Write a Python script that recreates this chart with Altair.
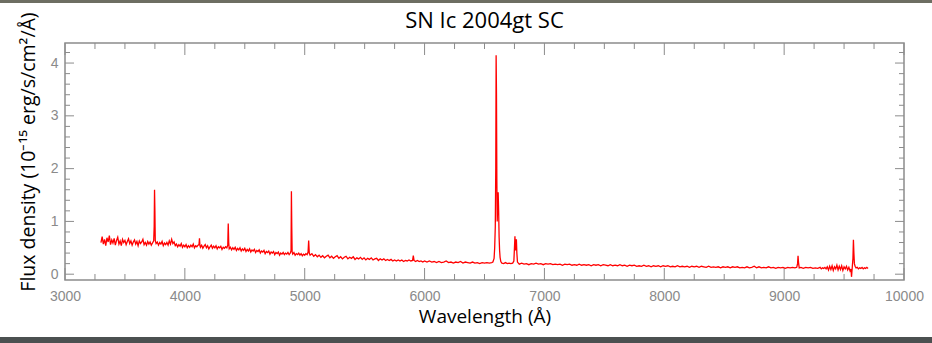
import altair as alt
import pandas as pd

# ---------------- data ----------------
# spectrum segments: (wavelength [Å], flux [1e-15 erg/s/cm2/Å])
seg_uv = [
    (3300, 0.60), (3310, 0.71), (3320, 0.57), (3330, 0.66), (3340, 0.54), (3350, 0.69),
    (3360, 0.61), (3370, 0.73), (3380, 0.56), (3390, 0.65), (3400, 0.59), (3410, 0.68),
    (3420, 0.55), (3430, 0.64), (3440, 0.70), (3450, 0.57), (3460, 0.63), (3470, 0.54),
    (3480, 0.66), (3490, 0.60), (3500, 0.64), (3510, 0.56), (3520, 0.62), (3530, 0.67),
    (3540, 0.58), (3550, 0.63), (3560, 0.55), (3570, 0.61), (3580, 0.65), (3590, 0.57),
    (3600, 0.62), (3610, 0.54), (3620, 0.63), (3630, 0.58), (3640, 0.61), (3650, 0.66),
    (3660, 0.56), (3670, 0.60), (3680, 0.55), (3690, 0.62), (3700, 0.57), (3710, 0.61),
    (3720, 0.55), (3730, 0.59), (3740, 0.63),
    (3744, 0.90), (3747, 1.60), (3750, 1.20), (3753, 0.64),
]
seg_blue = [
    (3760, 0.58), (3770, 0.61), (3780, 0.55), (3790, 0.60), (3800, 0.57), (3810, 0.62),
    (3820, 0.54), (3830, 0.59), (3840, 0.56), (3850, 0.60), (3860, 0.55), (3870, 0.63),
    (3880, 0.57), (3890, 0.66), (3900, 0.58), (3910, 0.61), (3920, 0.54), (3930, 0.57),
    (3940, 0.52), (3950, 0.56), (3960, 0.53), (3970, 0.58), (3980, 0.51), (3990, 0.55),
    (4000, 0.52), (4010, 0.56), (4020, 0.50), (4030, 0.54), (4040, 0.51), (4050, 0.55),
    (4060, 0.52), (4070, 0.57), (4080, 0.50), (4090, 0.54), (4100, 0.52), (4110, 0.55),
    (4118, 0.56), (4122, 0.68), (4126, 0.54),
    (4130, 0.51), (4140, 0.55), (4150, 0.49), (4160, 0.53), (4170, 0.56), (4180, 0.50),
    (4190, 0.54), (4200, 0.48), (4210, 0.52), (4220, 0.55), (4230, 0.49), (4240, 0.53),
    (4250, 0.50), (4260, 0.54), (4270, 0.48), (4280, 0.52), (4290, 0.50), (4300, 0.53),
    (4310, 0.47), (4320, 0.51), (4330, 0.49), (4340, 0.52), (4350, 0.50),
    (4358, 0.55), (4362, 0.96), (4366, 0.60), (4370, 0.48),
    (4380, 0.51), (4390, 0.46), (4400, 0.50), (4410, 0.47), (4420, 0.51), (4430, 0.45),
    (4440, 0.49), (4450, 0.46), (4460, 0.50), (4470, 0.44), (4480, 0.48), (4490, 0.45),
    (4500, 0.49), (4510, 0.43), (4520, 0.47), (4530, 0.44), (4540, 0.48), (4550, 0.42),
    (4560, 0.46), (4570, 0.44), (4580, 0.47), (4590, 0.41), (4600, 0.45), (4610, 0.43),
    (4620, 0.46), (4630, 0.40), (4640, 0.44), (4650, 0.42), (4660, 0.45), (4670, 0.39),
    (4680, 0.43), (4690, 0.41), (4700, 0.44), (4710, 0.38), (4720, 0.42), (4730, 0.40),
    (4740, 0.43), (4750, 0.37), (4760, 0.41), (4770, 0.39), (4780, 0.42), (4790, 0.36),
    (4800, 0.40), (4810, 0.38), (4820, 0.41), (4830, 0.37), (4840, 0.40), (4850, 0.38),
    (4860, 0.41), (4870, 0.37), (4880, 0.40),
    (4886, 0.45), (4889, 1.57), (4892, 0.90), (4895, 0.42),
    (4900, 0.38), (4910, 0.41), (4920, 0.36), (4930, 0.39), (4940, 0.37), (4950, 0.40),
    (4960, 0.36), (4970, 0.39), (4980, 0.35), (4990, 0.38), (5000, 0.36), (5010, 0.39),
    (5020, 0.37),
    (5028, 0.42), (5033, 0.64), (5038, 0.40),
]
seg_green = [
    (5045, 0.36), (5060, 0.39), (5075, 0.34), (5090, 0.37), (5105, 0.33), (5120, 0.36),
    (5135, 0.32), (5150, 0.35), (5165, 0.31), (5180, 0.34), (5195, 0.36), (5210, 0.31),
    (5225, 0.34), (5240, 0.30), (5255, 0.33), (5270, 0.35), (5285, 0.30), (5300, 0.33),
    (5315, 0.29), (5330, 0.32), (5345, 0.34), (5360, 0.29), (5375, 0.32), (5390, 0.30),
    (5405, 0.33), (5420, 0.28), (5435, 0.31), (5450, 0.29), (5465, 0.32), (5480, 0.28),
    (5495, 0.31), (5510, 0.27), (5525, 0.30), (5540, 0.28), (5555, 0.31), (5570, 0.27),
    (5585, 0.29), (5600, 0.30), (5615, 0.26), (5630, 0.29), (5645, 0.27), (5660, 0.29),
    (5675, 0.26), (5690, 0.28), (5705, 0.26), (5720, 0.28), (5735, 0.25), (5750, 0.27),
    (5765, 0.25), (5780, 0.27), (5795, 0.25), (5810, 0.27), (5825, 0.24), (5840, 0.26),
    (5855, 0.25), (5870, 0.27), (5885, 0.25),
    (5900, 0.26), (5906, 0.35), (5912, 0.26),
    (5925, 0.24), (5940, 0.26), (5955, 0.24), (5970, 0.25), (5985, 0.23), (6000, 0.25),
    (6020, 0.23), (6040, 0.25), (6060, 0.23), (6080, 0.24), (6100, 0.22), (6120, 0.24),
    (6140, 0.22), (6160, 0.23), (6180, 0.25), (6200, 0.22), (6220, 0.23), (6240, 0.21),
    (6260, 0.23), (6280, 0.22), (6300, 0.24), (6320, 0.21), (6340, 0.23), (6360, 0.22),
    (6380, 0.21), (6400, 0.23), (6420, 0.21), (6440, 0.22), (6460, 0.20), (6480, 0.22),
    (6500, 0.21), (6520, 0.22), (6540, 0.21), (6560, 0.22), (6570, 0.23), (6580, 0.30),
]
seg_halpha = [
    (6585, 0.50), (6590, 0.90), (6594, 2.00), (6597, 4.15), (6600, 3.40), (6603, 1.80),
    (6606, 1.00), (6610, 1.30), (6614, 1.55), (6618, 1.20), (6622, 0.70), (6626, 0.45),
    (6630, 0.32), (6636, 0.24), (6645, 0.21), (6660, 0.20), (6675, 0.22), (6690, 0.20),
    (6705, 0.21), (6720, 0.20), (6735, 0.21), (6745, 0.25),
    (6750, 0.50), (6754, 0.72), (6758, 0.45), (6762, 0.55), (6766, 0.66), (6770, 0.40),
    (6775, 0.23),
]
seg_red = [
    (6790, 0.19), (6810, 0.21), (6830, 0.19), (6850, 0.20), (6870, 0.18), (6890, 0.20),
    (6910, 0.19), (6930, 0.21), (6950, 0.19), (6970, 0.20), (6990, 0.18), (7010, 0.20),
    (7030, 0.19), (7050, 0.20), (7070, 0.18), (7090, 0.19), (7110, 0.18), (7130, 0.19),
    (7150, 0.17), (7170, 0.19), (7190, 0.18), (7210, 0.19), (7230, 0.17), (7250, 0.18),
    (7270, 0.17), (7290, 0.19), (7310, 0.17), (7330, 0.18), (7350, 0.17), (7370, 0.18),
    (7390, 0.16), (7410, 0.18), (7430, 0.17), (7450, 0.18), (7470, 0.16), (7490, 0.18),
    (7510, 0.17), (7530, 0.16), (7550, 0.18), (7570, 0.16), (7590, 0.17), (7610, 0.16),
    (7630, 0.18), (7650, 0.16), (7670, 0.17), (7690, 0.15), (7710, 0.17), (7730, 0.16),
    (7750, 0.17), (7770, 0.15), (7790, 0.16), (7810, 0.15), (7830, 0.17), (7850, 0.15),
    (7870, 0.16), (7890, 0.14), (7910, 0.16), (7930, 0.15), (7950, 0.16), (7970, 0.14),
    (7990, 0.16), (8010, 0.15), (8030, 0.16), (8050, 0.14), (8070, 0.15), (8090, 0.14),
    (8110, 0.16), (8130, 0.14), (8150, 0.15), (8170, 0.14), (8190, 0.15), (8210, 0.13),
    (8230, 0.15), (8250, 0.14), (8270, 0.15), (8290, 0.13), (8310, 0.15), (8330, 0.14),
    (8350, 0.13), (8370, 0.15), (8390, 0.13), (8410, 0.14), (8430, 0.13), (8450, 0.14),
    (8470, 0.12), (8490, 0.14), (8510, 0.13), (8530, 0.14), (8550, 0.12), (8570, 0.14),
    (8590, 0.13), (8610, 0.14), (8630, 0.12), (8650, 0.13), (8670, 0.12), (8690, 0.14),
    (8710, 0.12), (8730, 0.13), (8750, 0.15), (8770, 0.12), (8790, 0.14), (8810, 0.12),
    (8830, 0.13), (8850, 0.12), (8870, 0.14), (8890, 0.12), (8910, 0.13), (8930, 0.11),
    (8950, 0.13), (8970, 0.12), (8990, 0.13), (9010, 0.11), (9030, 0.13), (9050, 0.12),
    (9070, 0.13), (9090, 0.12), (9105, 0.13),
    (9112, 0.20), (9116, 0.35), (9120, 0.22), (9126, 0.12),
]
seg_ir = [
    (9140, 0.13), (9160, 0.11), (9180, 0.13), (9200, 0.12), (9220, 0.13), (9240, 0.11),
    (9260, 0.12), (9280, 0.11), (9300, 0.13), (9310, 0.10), (9320, 0.12), (9330, 0.11),
    (9340, 0.13), (9350, 0.10), (9360, 0.14), (9370, 0.08), (9380, 0.15), (9390, 0.09),
    (9400, 0.16), (9410, 0.07), (9420, 0.14), (9430, 0.10), (9440, 0.17), (9450, 0.08),
    (9460, 0.15), (9470, 0.09), (9480, 0.16), (9490, 0.07), (9500, 0.14), (9510, 0.10),
    (9520, 0.15), (9530, 0.08), (9540, 0.13), (9550, 0.06), (9558, 0.10), (9562, -0.05),
    (9568, 0.12), (9574, 0.30), (9578, 0.65), (9582, 0.40), (9586, 0.20), (9592, 0.15),
    (9600, 0.12), (9610, 0.13), (9620, 0.10), (9630, 0.12), (9640, 0.11), (9650, 0.13),
    (9660, 0.10), (9670, 0.12), (9680, 0.11), (9690, 0.13), (9700, 0.11),
]

x_major = [3000, 4000, 5000, 6000, 7000, 8000, 9000, 10000]
x_minor = [3250, 3500, 3750, 4250, 4500, 4750, 5250, 5500, 5750, 6250, 6500, 6750,
           7250, 7500, 7750, 8250, 8500, 8750, 9250, 9500, 9750]
y_major = [0, 1, 2, 3, 4]
y_minor = [0.2, 0.4, 0.6, 0.8, 1.2, 1.4, 1.6, 1.8, 2.2, 2.4, 2.6, 2.8,
           3.2, 3.4, 3.6, 3.8, 4.2]

TITLE = "SN Ic 2004gt SC"
XTITLE = "Wavelength (Å)"
YTITLE = "Flux density (10⁻¹⁵ erg/s/cm²/Å)"

# ---------------- build ----------------
W, H = 839, 237
rows = seg_uv + seg_blue + seg_green + seg_halpha + seg_red + seg_ir
spec = pd.DataFrame(rows, columns=["wave", "flux"])
spec["order"] = range(len(spec))

xs = alt.Scale(domain=[3000, 10000], nice=False, zero=False)
ys = alt.Scale(domain=[-0.11, 4.38], nice=False, zero=False)

tick_color = "#8c8c8c"
label_color = "#8a8a8a"

line = alt.Chart(spec).mark_line(color="#ff0000", strokeWidth=1.3, clip=True).encode(
    x=alt.X("wave:Q", scale=xs,
            axis=alt.Axis(values=x_major, format="d", title=XTITLE, grid=False,
                          domain=False, ticks=False, labelColor=label_color,
                          labelFlush=False,
                          labelFont="Liberation Sans", labelFontSize=14, labelPadding=9,
                          titleFont="Open Sans", titleFontSize=19, titleFontWeight="normal",
                          titleColor="#000000", titlePadding=4)),
    y=alt.Y("flux:Q", scale=ys,
            axis=alt.Axis(values=y_major, format="d", title=YTITLE, grid=False,
                          domain=False, ticks=False, labelColor=label_color,
                          labelFlush=False,
                          labelFont="Liberation Sans", labelFontSize=14, labelPadding=7,
                          titleFont="Open Sans", titleFontSize=19.5, titleFontWeight="normal",
                          titleColor="#000000", titlePadding=12, titleY=H / 2 - 10)),
    order="order:Q",
)

def xticks(vals, length):
    d = pd.DataFrame({"t": vals})
    bot = alt.Chart(d).mark_rule(color=tick_color, strokeWidth=1).encode(
        x=alt.X("t:Q", scale=xs), y=alt.value(H), y2=alt.value(H - length))
    top = alt.Chart(d).mark_rule(color=tick_color, strokeWidth=1).encode(
        x=alt.X("t:Q", scale=xs), y=alt.value(0), y2=alt.value(length))
    return [bot, top]

def yticks(vals, length):
    d = pd.DataFrame({"t": vals})
    left = alt.Chart(d).mark_rule(color=tick_color, strokeWidth=1).encode(
        y=alt.Y("t:Q", scale=ys), x=alt.value(0), x2=alt.value(length))
    right = alt.Chart(d).mark_rule(color=tick_color, strokeWidth=1).encode(
        y=alt.Y("t:Q", scale=ys), x=alt.value(W), x2=alt.value(W - length))
    return [left, right]

# decorative dark strips at top and bottom edges of the slide
strip_top = alt.Chart(pd.DataFrame({"k": [0]})).mark_rect(color="#6d6e62", clip=False).encode(
    x=alt.value(-65), x2=alt.value(W + 28), y=alt.value(-43), y2=alt.value(-40))
strip_bot = alt.Chart(pd.DataFrame({"k": [0]})).mark_rect(color="#4b5050", clip=False).encode(
    x=alt.value(-65), x2=alt.value(W + 28), y=alt.value(H + 57), y2=alt.value(H + 63))

# chart title drawn as a text mark above the frame
title = alt.Chart(pd.DataFrame({"k": [0]})).mark_text(
    text=TITLE, font="Open Sans", fontSize=22, color="#000000",
    align="center", baseline="alphabetic", clip=False,
).encode(x=alt.value(W / 2), y=alt.value(-15))

layers = ([strip_top, strip_bot, title] + xticks(x_major, 12) + xticks(x_minor, 6)
          + yticks(y_major, 9) + yticks(y_minor, 5) + [line])

chart = alt.layer(*layers).properties(
    width=W, height=H,
    autosize=alt.AutoSizeParams(type="none"),
    padding={"left": 65, "top": 43, "right": 28, "bottom": 63},
    background="#ffffff",
).configure_view(stroke="#8c8c8c", strokeWidth=1.5).configure_axis(grid=False)

chart.save("out.html", embed_options={"renderer": "svg", "actions": False})
